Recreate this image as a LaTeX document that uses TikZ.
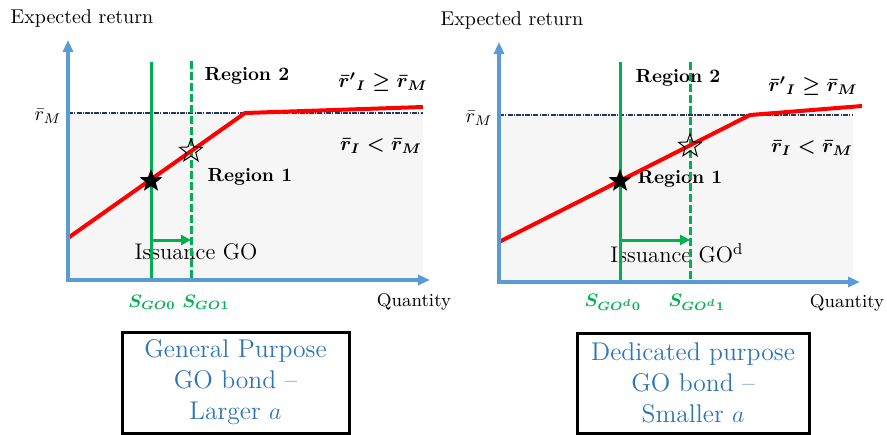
\documentclass[tikz,border=0pt]{standalone}
\usetikzlibrary{arrows.meta,shapes.geometric}
\definecolor{axblue}{HTML}{5B9BD5}
\definecolor{gogreen}{HTML}{00B050}
\definecolor{retred}{HTML}{FF0000}
\definecolor{mktnavy}{HTML}{203864}
\definecolor{boxblue}{HTML}{2E75B6}
\definecolor{zonegrey}{HTML}{F6F6F6}
\tikzset{
  zone/.style={fill=zonegrey},
  mkt/.style={draw=mktnavy,line width=0.6pt,dash pattern=on 2.5pt off 0.6pt on 0.6pt off 0.6pt},
  axis/.style={draw=axblue,line width=2pt,{Triangle[length=6pt,width=5pt]}-{Triangle[length=6pt,width=5pt]}},
  supply/.style={draw=gogreen,line width=1.5pt},
  supplynew/.style={supply,dash pattern=on 4pt off 1.5pt},
  curve/.style={draw=retred,line width=2pt},
  issuearr/.style={draw=gogreen,line width=1.5pt,-{Triangle[length=5pt,width=5pt]}},
  oldpt/.style={star,star points=5,star point ratio=2.4,fill=black,minimum size=12pt,inner sep=0pt},
  newpt/.style={oldpt,fill=none,draw=black,line width=0.5pt},
  axlbl/.style={font=\fontsize{10}{12}\selectfont,inner sep=1pt},
  qlbl/.style={font=\fontsize{9.2}{11}\selectfont,inner sep=1pt},
  regionlbl/.style={font=\fontsize{9.5}{11}\selectfont\bfseries,inner sep=1pt},
  condlbl/.style={font=\fontsize{10}{12}\selectfont\boldmath,inner sep=1pt},
  issuelbl/.style={font=\fontsize{11.3}{13}\selectfont,inner sep=1pt},
  supplbl/.style={text=gogreen,font=\fontsize{9}{11}\selectfont\boldmath,inner sep=1pt},
  bondbox/.style={draw=black,line width=1.5pt,align=center,text=boxblue,
                  font=\fontsize{12.8}{15.5}\selectfont,inner sep=0pt},
}
\begin{document}
\begin{tikzpicture}[x=0.5pt,y=-0.5pt]
  \useasboundingbox (0,0) rectangle (887,434);

  % left panel: general purpose GO
  \fill[zone] (68,113) rectangle (423,280);
  \draw[mkt] (68,113) -- (423,113);
  \node[axlbl] (yl1) at (82,18) {Expected return};
  \node[axlbl] (rm1) at (48,116) {$\bar r_M$};
  \node[qlbl] (xl1) at (414,302) {Quantity};
  \node[regionlbl] (rgtop1) at (247,76) {Region 2};
  \node[regionlbl] (rgbot1) at (250,177) {Region 1};
  \node[condlbl] (cup1) at (383,82) {$\bar r'{}_I \geq \bar r_M$};
  \node[condlbl] (cdn1) at (381,146) {$\bar r_I < \bar r_M$};
  \node[issuelbl] (iss1) at (196,252) {Issuance GO};
  \node[supplbl] (sa0) at (152,302) {$S_{GO0}$};
  \node[supplbl] (sa1) at (206,302) {$S_{GO1}$};
  \draw[supply] (151,62) -- (151,280);
  \draw[supplynew] (191,61) -- (191,280);
  \draw[curve] (68,238) -- (245,113) -- (423,107);
  \node[oldpt] (ka0) at (151,181) {};
  \node[newpt] (ka1) at (191,151) {};
  \coordinate (o1) at (68,280);
  \draw[axis] (68,40) -- (o1) -- (430,280);
  \coordinate (ia0) at (151,240);
  \coordinate (ia1) at (191,240);
  \draw[issuearr] (ia0) -- (ia1);
  \node[bondbox,minimum width=113.5pt,minimum height=50.5pt] (gp) at (235.5,382.5)
    {General Purpose\\GO bond --\\Larger $a$};

  % right panel: dedicated purpose GO
  \fill[zone] (499,115) rectangle (853,282);
  \draw[mkt] (499,115) -- (853,115);
  \node[axlbl] (yl2) at (512,20) {Expected return};
  \node[axlbl] (rm2) at (479,118) {$\bar r_M$};
  \node[qlbl] (xl2) at (847,303) {Quantity};
  \node[regionlbl] (rgtop2) at (678,78) {Region 2};
  \node[regionlbl] (rgbot2) at (680,179) {Region 1};
  \node[condlbl] (cup2) at (813,86) {$\bar r'{}_I \geq \bar r_M$};
  \node[condlbl] (cdn2) at (812,148) {$\bar r_I < \bar r_M$};
  \node[issuelbl] (iss2) at (677,253) {Issuance GO\textsuperscript{d}};
  \node[supplbl] (sb0) at (613,302) {$S_{GO^d0}$};
  \node[supplbl] (sb1) at (697,302) {$S_{GO^d1}$};
  \draw[supply] (620,62) -- (620,282);
  \draw[supplynew] (690,62) -- (690,282);
  \draw[curve] (499,242) -- (750,115) -- (862,106);
  \node[oldpt] (kb0) at (620,181) {};
  \node[newpt] (kb1) at (690,146) {};
  \coordinate (o2) at (499,282);
  \draw[axis] (499,42) -- (o2) -- (860,282);
  \coordinate (ib0) at (620,240);
  \coordinate (ib1) at (690,240);
  \draw[issuearr] (ib0) -- (ib1);
  \node[bondbox,minimum width=116pt,minimum height=50pt] (dp) at (693,383)
    {Dedicated purpose\\GO bond --\\Smaller $a$};
\end{tikzpicture}
\end{document}
